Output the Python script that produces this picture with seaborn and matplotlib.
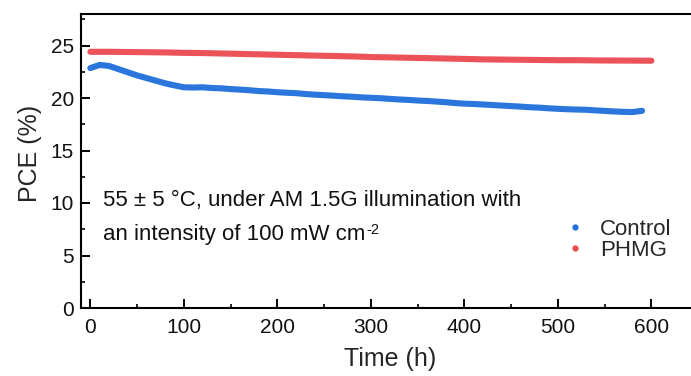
import numpy as np
import pandas as pd
import matplotlib
matplotlib.use("Agg")
import matplotlib.pyplot as plt
from matplotlib.lines import Line2D
from matplotlib.ticker import MultipleLocator
import seaborn as sns

# Aging time (h) and PCE (%) of the two device types
time_control = [0, 10, 20, 30, 40, 50, 60, 70, 80, 90,
                100, 110, 120, 130, 140, 150, 160, 170, 180, 190,
                200, 210, 220, 230, 240, 250, 260, 270, 280, 290,
                300, 310, 320, 330, 340, 350, 360, 370, 380, 390,
                400, 410, 420, 430, 440, 450, 460, 470, 480, 490,
                500, 510, 520, 530, 540, 550, 560, 570, 580, 590]
pce_control = [22.85, 23.15, 23.05, 22.75, 22.45, 22.15, 21.9, 21.65, 21.4, 21.2,
               21.02, 21.0, 21.02, 20.95, 20.92, 20.85, 20.8, 20.74, 20.66, 20.62,
               20.55, 20.5, 20.46, 20.38, 20.32, 20.27, 20.22, 20.16, 20.12, 20.06,
               20.02, 19.98, 19.92, 19.86, 19.82, 19.76, 19.72, 19.66, 19.6, 19.52,
               19.46, 19.43, 19.38, 19.33, 19.28, 19.23, 19.18, 19.12, 19.08, 19.02,
               18.97, 18.93, 18.9, 18.88, 18.82, 18.77, 18.72, 18.68, 18.66, 18.78]

time_phmg = [0, 20, 40, 60, 80, 100, 120, 140, 160, 180,
             200, 220, 240, 260, 280, 300, 320, 340, 360, 380,
             400, 420, 440, 460, 480, 500, 520, 540, 560, 580, 600]
pce_phmg = [24.4, 24.4, 24.38, 24.36, 24.34, 24.3, 24.28, 24.24, 24.2, 24.16,
            24.12, 24.08, 24.04, 24.0, 23.96, 23.9, 23.87, 23.83, 23.8, 23.76,
            23.72, 23.68, 23.66, 23.64, 23.62, 23.6, 23.6, 23.58, 23.57, 23.56, 23.55]

series_names = ["Control", "PHMG"]
series_colors = ["#1f6fdc", "#ea4a50"]

x_ticks = [0, 100, 200, 300, 400, 500, 600]
y_ticks = [0, 5, 10, 15, 20, 25]

df = pd.concat([
    pd.DataFrame({"Time": time_control, "PCE": pce_control, "Device": series_names[0]}),
    pd.DataFrame({"Time": time_phmg, "PCE": pce_phmg, "Device": series_names[1]}),
])

sns.set_theme(style="ticks")
plt.rcParams["font.family"] = ["Liberation Sans", "DejaVu Sans"]

fig = plt.figure(figsize=(6.91, 3.76), dpi=100)
ax = fig.add_axes([81 / 691, 68 / 376, 626.5 / 691, 294 / 376])

sns.lineplot(data=df, x="Time", y="PCE", hue="Device", hue_order=series_names,
             palette=series_colors, linewidth=4.4, alpha=0.95, legend=False, ax=ax)

ax.set_xlim(-10, 660)
ax.set_ylim(0, 28)
ax.set_xticks(x_ticks)
ax.set_yticks(y_ticks)
ax.xaxis.set_minor_locator(MultipleLocator(50))
ax.yaxis.set_minor_locator(MultipleLocator(2.5))
ax.tick_params(which="major", direction="in", length=6.5, width=1.4,
               labelsize=15, color="black", labelcolor="#111111")
ax.tick_params(which="minor", direction="in", length=3, width=1.2, color="black")
ax.tick_params(axis="x", pad=7)
ax.tick_params(axis="y", pad=5)
for side in ax.spines.values():
    side.set_linewidth(1.5)
    side.set_color("black")

ax.set_xlabel("Time (h)", fontsize=18)
ax.set_ylabel("PCE (%)", fontsize=18)
ax.xaxis.set_label_coords(0.493, -0.133)
ax.yaxis.set_label_coords(-0.063, 0.526)

# Test condition note, two lines with a raised exponent on the unit
ax.text(103 / 691, 1 - 206 / 376, "55 ± 5 °C, under AM 1.5G illumination with",
        transform=fig.transFigure, fontsize=16, va="baseline", ha="left",
        color="#111111")
line2 = ax.text(103 / 691, 1 - 240 / 376, "an intensity of 100 mW cm",
                transform=fig.transFigure, fontsize=16, va="baseline", ha="left",
                color="#111111")
ax.annotate("-2", xy=(1, 1), xycoords=line2, xytext=(0.5, 0.5),
            textcoords="offset points", fontsize=10.5, va="top", ha="left",
            color="#111111")

handles = [Line2D([], [], linestyle="none", marker="o", markersize=3.5,
                  color=c) for c in series_colors]
fig.legend(handles, series_names, loc="center left",
           bbox_to_anchor=(566 / 691, 1 - 240 / 376), frameon=False,
           fontsize=16, handletextpad=0.74, labelspacing=0.0,
           handlelength=0.8, borderpad=0, borderaxespad=0)

fig.savefig("out.png", dpi=100)
